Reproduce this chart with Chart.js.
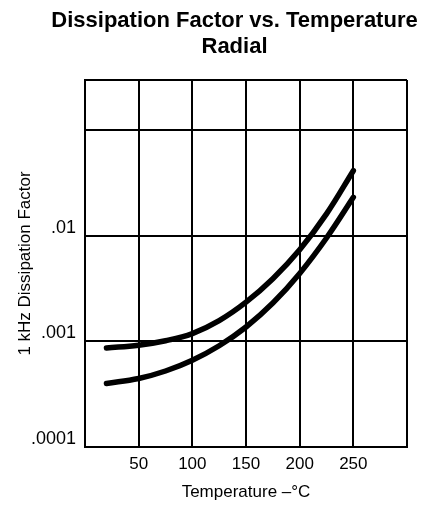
<!DOCTYPE html>
<html>
<head>
<meta charset="utf-8">
<script src="https://cdn.jsdelivr.net/npm/chart.js@4/dist/chart.umd.min.js"></script>
<style>
  html, body { margin: 0; padding: 0; background: #fff; }
  #wrap { width: 424px; height: 506px; }
</style>
</head>
<body>
<div id="wrap"><canvas id="dfChart" width="424" height="506"></canvas></div>
<script>
// temperature (°C) and 1 kHz dissipation factor
const temps = [20, 50, 75, 100, 125, 150, 175, 200, 225, 250];
const upperCurve = [0.000868, 0.000921, 0.001015, 0.001188, 0.001576, 0.002357, 0.003931, 0.007388, 0.01618, 0.04149];
const lowerCurve = [0.0004, 0.000446, 0.000525, 0.000664, 0.000911, 0.001371, 0.002311, 0.004411, 0.009554, 0.02322];

const xTickLabels = [50, 100, 150, 200, 250];
const yTickValues = [0.0001, 0.001, 0.01, 0.1, 0.3];
const yTickLabels = [".0001", ".001", ".01", "", ""];

const titleLines = ["Dissipation Factor vs. Temperature", "Radial"];

const FONT = "'Liberation Sans', Arial, Helvetica, sans-serif";

// draws the two-line heading, centred a bit left of the plot like the original
const headingPlugin = {
  id: "heading",
  afterDraw(chart) {
    const ctx = chart.ctx;
    ctx.save();
    ctx.fillStyle = "#000";
    ctx.font = "bold 22px " + FONT;
    ctx.textAlign = "center";
    ctx.textBaseline = "alphabetic";
    ctx.fillText(titleLines[0], 234.5, 27);
    ctx.fillText(titleLines[1], 234.5, 53);
    ctx.restore();
  }
};

function toPoints(ys) {
  return temps.map((t, i) => ({ x: t, y: ys[i] }));
}

const lineStyle = {
  borderColor: "#000",
  backgroundColor: "#000",
  borderWidth: 5.5,
  borderCapStyle: "round",
  borderJoinStyle: "round",
  pointRadius: 0,
  tension: 0.4,
  fill: false
};

new Chart(document.getElementById("dfChart").getContext("2d"), {
  type: "line",
  data: {
    datasets: [
      Object.assign({ label: "upper", data: toPoints(upperCurve) }, lineStyle),
      Object.assign({ label: "lower", data: toPoints(lowerCurve) }, lineStyle)
    ]
  },
  options: {
    responsive: false,
    animation: false,
    layout: { padding: { top: 80, right: 17, left: 0, bottom: 0 } },
    plugins: {
      legend: { display: false },
      tooltip: { enabled: false },
      title: { display: false }
    },
    scales: {
      x: {
        type: "linear",
        min: 0,
        max: 300,
        afterFit(scale) { scale.height = 59; },
        grid: { color: "#000", lineWidth: 2, drawTicks: false },
        border: { color: "#000", width: 2 },
        ticks: {
          stepSize: 50,
          autoSkip: false,
          maxRotation: 0,
          padding: 7,
          color: "#000",
          font: { family: FONT, size: 17 },
          callback: v => xTickLabels.includes(v) ? String(v) : ""
        },
        title: {
          display: true,
          text: "Temperature –°C",
          color: "#000",
          font: { family: FONT, size: 17 },
          padding: { top: 0, bottom: 3 }
        }
      },
      y: {
        type: "logarithmic",
        min: 0.0001,
        max: 0.3,
        afterFit(scale) { scale.width = 85; },
        afterBuildTicks(scale) {
          scale.ticks = yTickValues.map(v => ({ value: v }));
        },
        grid: { color: "#000", lineWidth: 2, drawTicks: false },
        border: { color: "#000", width: 2 },
        ticks: {
          autoSkip: false,
          padding: 9,
          labelOffset: -8,
          color: "#000",
          font: { family: FONT, size: 18 },
          callback: function (v) {
            const i = yTickValues.indexOf(v);
            return i >= 0 ? yTickLabels[i] : "";
          }
        },
        title: {
          display: true,
          text: "1 kHz Dissipation Factor",
          color: "#000",
          font: { family: FONT, size: 17 },
          padding: { top: 15, bottom: 0 }
        }
      }
    }
  },
  plugins: [headingPlugin]
});
</script>
</body>
</html>
